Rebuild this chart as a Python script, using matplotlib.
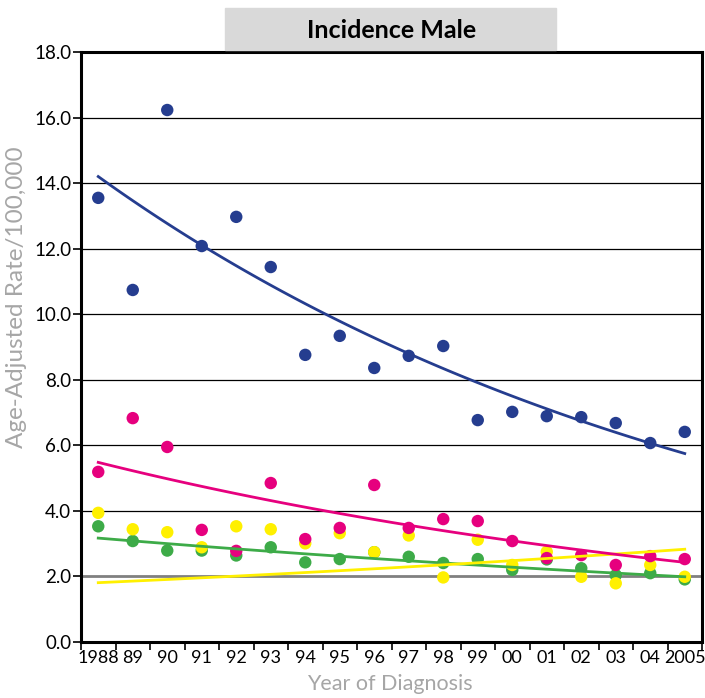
import matplotlib
matplotlib.use('Agg')
import matplotlib.pyplot as plt
from matplotlib.patches import Rectangle
import numpy as np

plt.rcParams['font.family'] = ['Lato', 'DejaVu Sans']

years = ['1988', '89', '90', '91', '92', '93', '94', '95', '96',
         '97', '98', '99', '00', '01', '02', '03', '04', '2005']

# age-adjusted rates per 100,000
blue = [13.55, 10.74, 16.23, 12.08, 12.97, 11.44, 8.76, 9.34, 8.36,
        8.73, 9.03, 6.77, 7.02, 6.89, 6.86, 6.68, 6.07, 6.41]
magenta = [5.19, 6.83, 5.95, 3.42, 2.78, 4.85, 3.14, 3.48, 4.79,
           3.48, 3.75, 3.69, 3.08, 2.56, 2.65, 2.35, 2.62, 2.53]
yellow = [3.94, 3.44, 3.35, 2.89, 3.53, 3.44, 3.01, 3.32, 2.74,
          3.25, 1.97, 3.12, 2.35, 2.75, 1.99, 1.79, 2.35, 1.99]
green = [3.53, 3.08, 2.79, 2.79, 2.64, 2.89, 2.43, 2.53, 2.74,
         2.60, 2.41, 2.53, 2.20, 2.52, 2.25, 2.04, 2.10, 1.91]

# exponential trend lines: value at 1988 and at 2005
trend_start = {'blue': 14.2, 'magenta': 5.48, 'yellow': 1.81, 'green': 3.17}
trend_end = {'blue': 5.75, 'magenta': 2.43, 'yellow': 2.83, 'green': 1.99}

colors = {'blue': '#253d8f', 'magenta': '#e6007e',
          'yellow': '#fff000', 'green': '#3dab48'}

fig = plt.figure(figsize=(7.05, 6.98), dpi=100)
ax = fig.add_axes([81 / 705, 56 / 698, 621 / 705, 590 / 698])

x = np.arange(len(years))

# gridlines
for g in range(4, 18, 2):
    ax.axhline(g, color='black', lw=0.9, zorder=1)
ax.axhline(2, color='#808080', lw=2, zorder=1)

series = [(green, 'green'), (yellow, 'yellow'), (magenta, 'magenta'), (blue, 'blue')]
for vals, c in series:
    ax.scatter(x, vals, s=80, color=colors[c], edgecolors='none', zorder=3)

n = len(years) - 1
xs = np.linspace(0, n, 100)
for vals, c in series:
    y0, y1 = trend_start[c], trend_end[c]
    ax.plot(xs, y0 * (y1 / y0) ** (xs / n), color=colors[c], lw=2, zorder=4)

ax.set_xlim(-0.5, len(years) - 0.5)
ax.set_ylim(0, 18)
ax.set_yticks(np.arange(0, 18.1, 2))
ax.set_yticklabels(['%.1f' % v for v in np.arange(0, 18.1, 2)])
ax.set_xticks(x)
ax.set_xticklabels(years)
ax.set_xticks(np.arange(-0.5, len(years)), minor=True)
ax.tick_params(axis='x', which='major', length=0, pad=6, labelsize=13)
ax.tick_params(axis='x', which='minor', length=6, width=1.2, direction='out')
ax.tick_params(axis='y', length=6, width=1.2, labelsize=13.5, pad=1)
for s in ax.spines.values():
    s.set_linewidth(2.2)

ax.set_xlabel('Year of Diagnosis', color='#a6a6a6', fontsize=15.5)
ax.xaxis.set_label_coords(0.497, -0.055)
ax.set_ylabel('Age-Adjusted Rate/100,000', color='#a6a6a6', fontsize=17.5)
ax.yaxis.set_label_coords(-0.087, 0.585)

# title box
fig.patches.append(Rectangle((225 / 705, 648 / 698), 331 / 705, 42 / 698,
                             transform=fig.transFigure, color='#d9d9d9', zorder=0))
fig.text(392 / 705, 667 / 698, 'Incidence Male', ha='center', va='center',
         fontsize=18, fontweight='bold')

plt.savefig('out.png', dpi=100)
